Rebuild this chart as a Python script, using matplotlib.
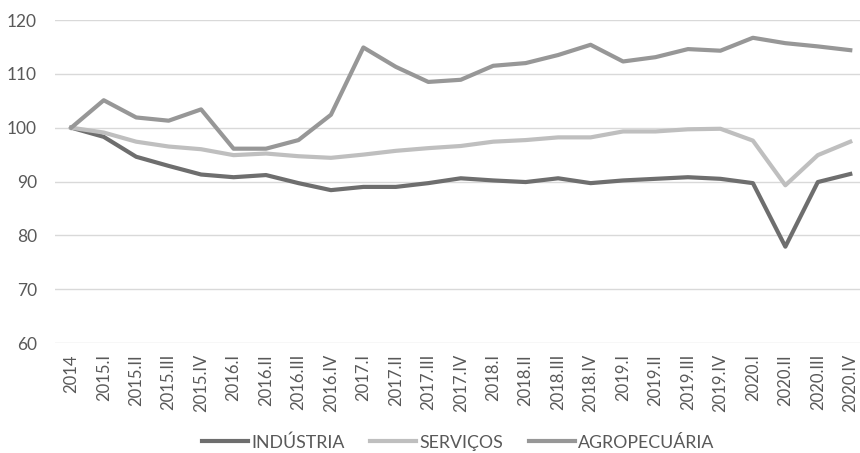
import numpy as np
import matplotlib.pyplot as plt

plt.rcParams['font.family'] = ['Lato', 'DejaVu Sans']

periods = ['2014',
           '2015.I', '2015.II', '2015.III', '2015.IV',
           '2016.I', '2016.II', '2016.III', '2016.IV',
           '2017.I', '2017.II', '2017.III', '2017.IV',
           '2018.I', '2018.II', '2018.III', '2018.IV',
           '2019.I', '2019.II', '2019.III', '2019.IV',
           '2020.I', '2020.II', '2020.III', '2020.IV']

industria = [100, 98.3, 94.6, 92.9, 91.3, 90.8, 91.2, 89.7, 88.4, 89.0, 89.0, 89.7, 90.6,
             90.2, 89.9, 90.6, 89.7, 90.2, 90.5, 90.8, 90.5, 89.7, 77.9, 89.9, 91.4]
servicos = [100, 99.1, 97.4, 96.5, 96.0, 94.9, 95.2, 94.7, 94.4, 95.0, 95.7, 96.2, 96.6,
            97.4, 97.7, 98.2, 98.2, 99.3, 99.3, 99.7, 99.8, 97.6, 89.3, 94.9, 97.4]
agro = [100, 105.1, 101.9, 101.3, 103.4, 96.1, 96.1, 97.7, 102.4, 114.9, 111.3, 108.5, 108.9,
        111.5, 112.0, 113.5, 115.4, 112.3, 113.1, 114.6, 114.3, 116.7, 115.7, 115.1, 114.4]

text_color = '#595959'

fig = plt.figure(figsize=(8.6, 4.53), dpi=100)
ax = fig.add_axes([0.064, 0.2428, 0.936, 0.713])

x = np.arange(len(periods))
ax.plot(x, industria, color='#6e6e6e', lw=3, label='INDÚSTRIA')
ax.plot(x, servicos, color='#bfbfbf', lw=3, label='SERVIÇOS')
ax.plot(x, agro, color='#979797', lw=3, label='AGROPECUÁRIA')

ax.set_ylim(60, 120)
ax.set_yticks(range(60, 121, 10))
ax.set_xlim(-0.5, 24.3)
ax.set_xticks(x)
ax.set_xticklabels(periods, rotation=90)
ax.grid(axis='y', color='#d9d9d9', lw=1)
ax.set_axisbelow(True)
for s in ax.spines.values():
    s.set_visible(False)
ax.tick_params(axis='both', length=0, colors=text_color, labelsize=12)
ax.tick_params(axis='y', pad=13, labelsize=12.5)
ax.tick_params(axis='x', pad=8)

fig.legend(loc='lower center', bbox_to_anchor=(0.533, -0.03), ncol=3, frameon=False,
           fontsize=12.8, labelcolor=text_color, handlelength=2.6, handletextpad=0.2,
           columnspacing=1.4)

fig.savefig('out.png', dpi=100)
